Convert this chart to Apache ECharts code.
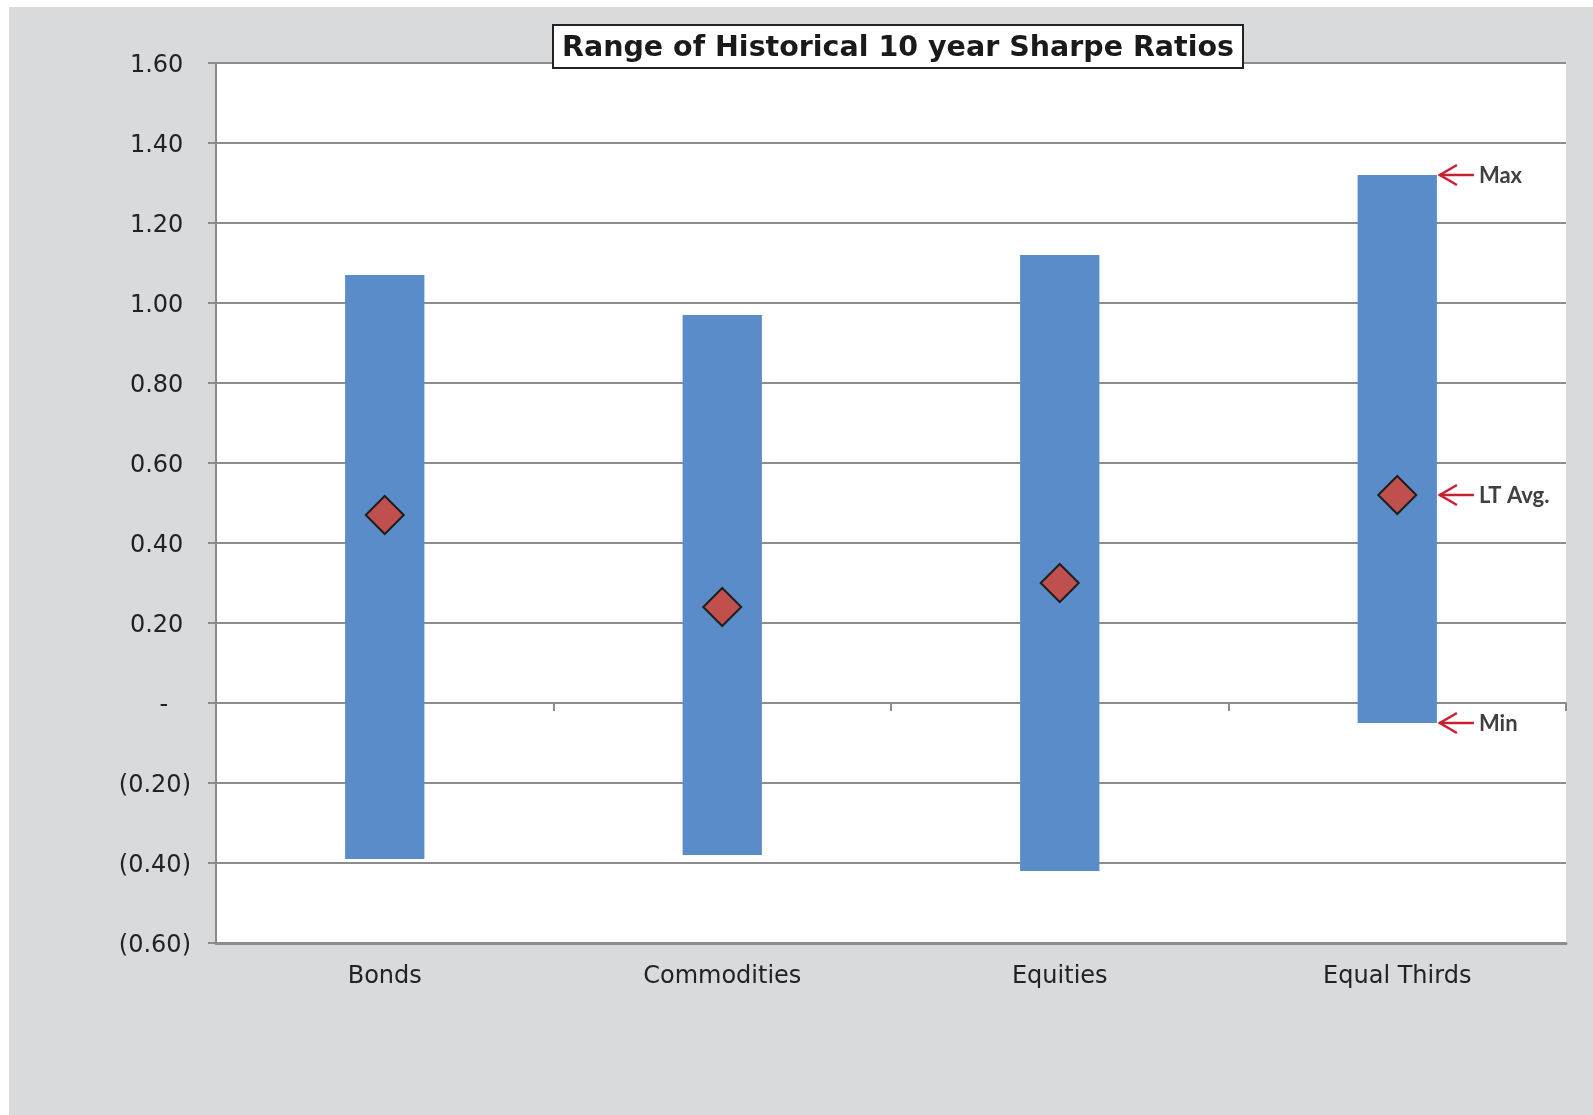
<!DOCTYPE html>
<html>
<head>
<meta charset="utf-8">
<script src="https://cdn.jsdelivr.net/npm/echarts@6/dist/echarts.min.js"></script>
<style>
  html, body { margin: 0; padding: 0; background: #ffffff; }
  #chart { position: absolute; left: 9px; top: 7px; width: 1584px; height: 1108px; }
</style>
</head>
<body>
<div id="chart"></div>
<script>
// ---- data ----
const categories = ['Bonds', 'Commodities', 'Equities', 'Equal Thirds'];
const minValues = [-0.39, -0.38, -0.42, -0.05];
const maxValues = [1.07, 0.97, 1.12, 1.32];
const avgValues = [0.47, 0.24, 0.30, 0.52];
const annotationLabels = ['Max', 'LT Avg.', 'Min'];
const titleText = 'Range of Historical 10 year Sharpe Ratios';

// ---- derived series data ----
const rangeData = categories.map((c, i) => [i, minValues[i], maxValues[i]]);
const avgData = categories.map((c, i) => [i, avgValues[i]]);
const lastIdx = categories.length - 1;
const annotationData = [
  [lastIdx, maxValues[lastIdx]],
  [lastIdx, avgValues[lastIdx]],
  [lastIdx, minValues[lastIdx]]
];

const BAR_FRAC = 0.235;
const gridColor = '#8c8c8c';

function fmtY(v) {
  let s;
  if (Math.abs(v) < 1e-9) s = '-   ';
  else if (v < 0) s = '(' + Math.abs(v).toFixed(2) + ')';
  else s = v.toFixed(2) + ' ';
  return '{v|' + s + '}';
}

const chart = echarts.init(document.getElementById('chart'), null, { renderer: 'canvas' });

const option = {
  backgroundColor: '#D9DADC',
  animation: false,
  title: {
    text: titleText,
    left: 880,
    top: 18,
    textAlign: 'center',
    backgroundColor: '#ffffff',
    borderColor: '#222222',
    borderWidth: 2,
    padding: [9, 9, 5, 9],
    textStyle: {
      fontFamily: 'DejaVu Sans',
      fontWeight: 'bold',
      fontSize: 28.5,
      color: '#1a1a1a'
    }
  },
  grid: {
    left: 207,
    right: 27,
    top: 56,
    bottom: 172,
    show: true,
    backgroundColor: '#ffffff',
    borderWidth: 0,
    containLabel: false
  },
  xAxis: [
    {
      type: 'category',
      data: categories,
      position: 'bottom',
      boundaryGap: true,
      axisLine: { show: true, onZero: false, lineStyle: { color: gridColor, width: 3 } },
      axisTick: { show: false },
      axisLabel: {
        margin: 22,
        fontFamily: 'DejaVu Sans',
        fontSize: 24,
        color: '#222222'
      },
      splitLine: { show: false }
    },
    {
      type: 'category',
      data: categories,
      position: 'top',
      boundaryGap: true,
      axisLine: { show: true, onZero: true, lineStyle: { color: gridColor, width: 2 } },
      axisTick: { show: true, inside: true, length: 8, lineStyle: { color: gridColor, width: 2 } },
      axisLabel: { show: false },
      splitLine: { show: false }
    }
  ],
  yAxis: {
    type: 'value',
    min: -0.6,
    max: 1.6,
    interval: 0.2,
    axisLine: { show: true, lineStyle: { color: gridColor, width: 2 } },
    axisTick: { show: true, length: 8, lineStyle: { color: gridColor, width: 2 } },
    axisLabel: {
      margin: 25,
      fontFamily: 'DejaVu Sans',
      fontSize: 24,
      color: '#222222',
      formatter: fmtY,
      rich: {
        v: {
          fontFamily: 'DejaVu Sans',
          fontSize: 24,
          color: '#222222',
          padding: [6, 0, 0, 0]
        }
      }
    },
    splitLine: { show: true, lineStyle: { color: gridColor, width: 2 } }
  },
  series: [
    {
      name: 'Range',
      type: 'custom',
      xAxisIndex: 0,
      z: 3,
      encode: { x: 0, y: [1, 2] },
      data: rangeData,
      renderItem: function (params, api) {
        const x = api.value(0);
        const lo = api.value(1);
        const hi = api.value(2);
        const pTop = api.coord([x, hi]);
        const pBot = api.coord([x, lo]);
        const w = api.size([1, 0])[0] * BAR_FRAC;
        return {
          type: 'rect',
          shape: { x: pTop[0] - w / 2, y: pTop[1], width: w, height: pBot[1] - pTop[1] },
          style: { fill: '#598CC8' }
        };
      }
    },
    {
      name: 'LT Avg.',
      type: 'scatter',
      xAxisIndex: 0,
      z: 4,
      symbol: 'diamond',
      symbolSize: [38, 38],
      itemStyle: { color: '#C0504D', borderColor: '#1e1e1e', borderWidth: 2, opacity: 1 },
      data: avgData
    },
    {
      name: 'Annotations',
      type: 'custom',
      xAxisIndex: 0,
      z: 5,
      clip: false,
      encode: { x: 0, y: 1 },
      data: annotationData,
      renderItem: function (params, api) {
        const x = api.value(0);
        const v = api.value(1);
        const p = api.coord([x, v]);
        const w = api.size([1, 0])[0] * BAR_FRAC;
        const x0 = p[0] + w / 2 + 2;
        const y = p[1];
        const arrowColor = '#C8202F';
        return {
          type: 'group',
          children: [
            {
              type: 'line',
              shape: { x1: x0, y1: y, x2: x0 + 35, y2: y },
              style: { stroke: arrowColor, lineWidth: 2.5 }
            },
            {
              type: 'polyline',
              shape: { points: [[x0 + 18, y - 10], [x0 + 1, y], [x0 + 18, y + 10]] },
              style: { stroke: arrowColor, lineWidth: 2.5, fill: null }
            },
            {
              type: 'text',
              x: x0 + 40,
              y: y + 1,
              style: {
                text: annotationLabels[params.dataIndex],
                fontFamily: 'Lato',
                fontWeight: 'bold',
                fontSize: 22,
                fill: '#404040',
                align: 'left',
                verticalAlign: 'middle'
              }
            }
          ]
        };
      }
    }
  ]
};

chart.setOption(option);
</script>
</body>
</html>
